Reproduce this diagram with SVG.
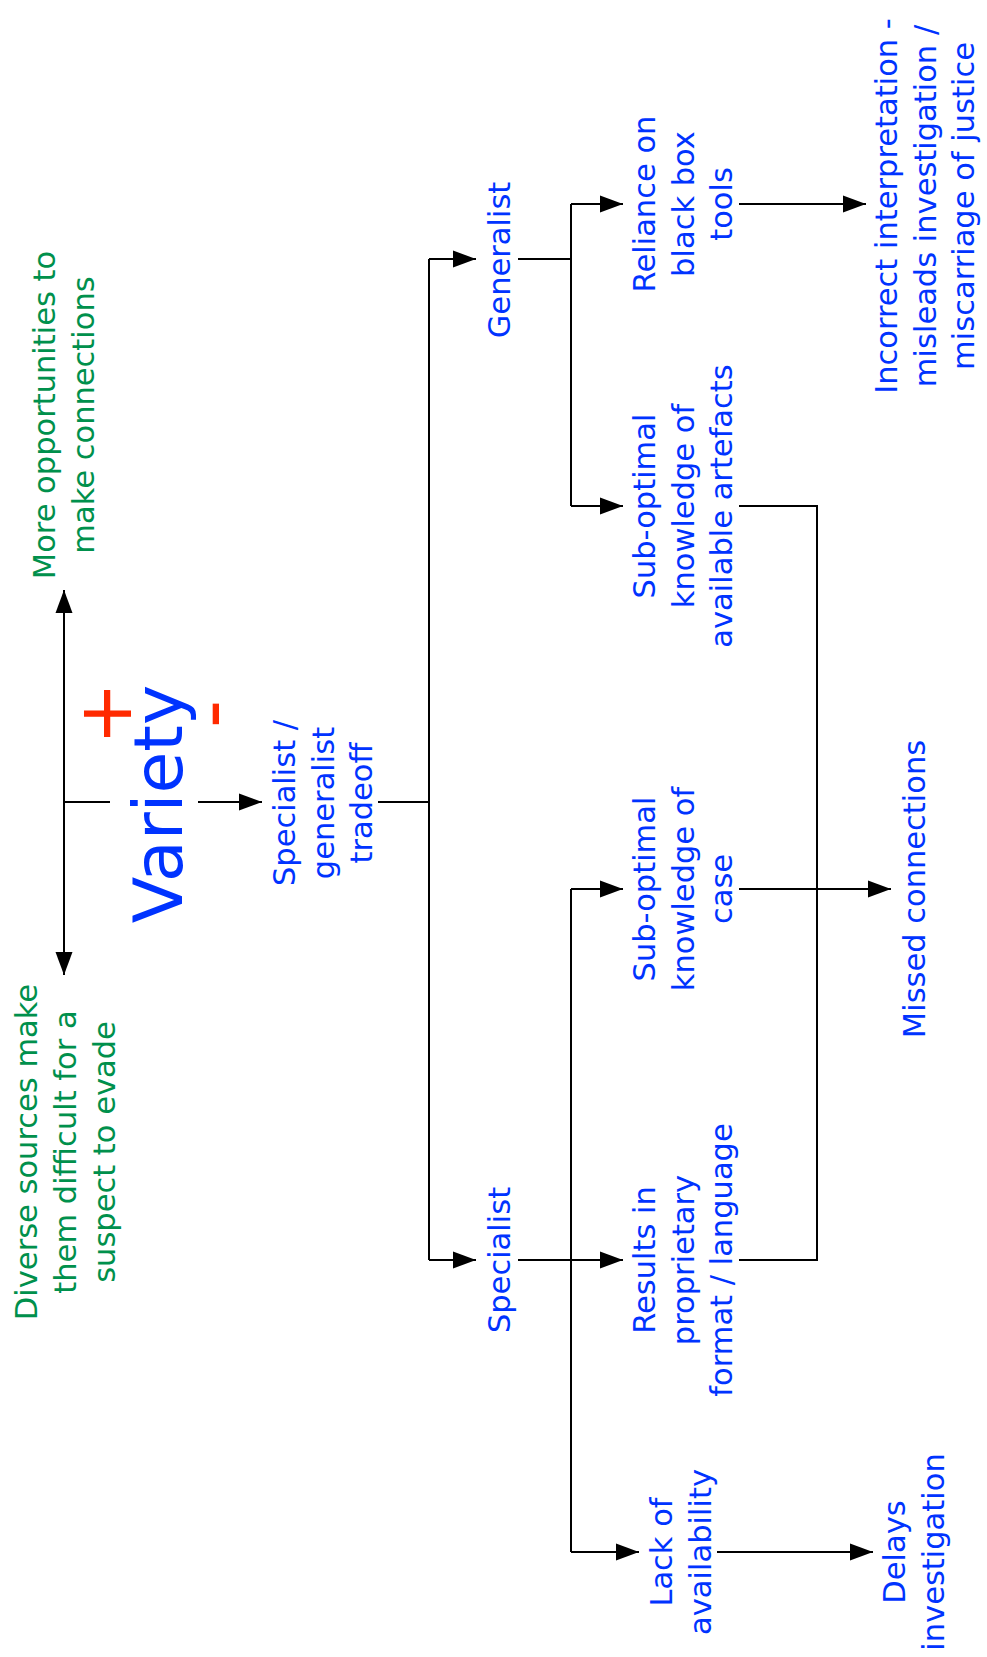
<svg xmlns="http://www.w3.org/2000/svg" width="987" height="1657" viewBox="0 0 987 1657">
<style>
.t{font-family:"DejaVu Sans",Verdana,sans-serif;font-size:30.5px;text-anchor:middle}
.b{fill:#0033FF}
.g{fill:#00904C}
.r{fill:#FF2A00}
.c{fill:none;stroke:#000;stroke-width:2}
</style>
<defs>
<marker id="a" markerWidth="24" markerHeight="18" refX="23" refY="9" orient="auto" markerUnits="userSpaceOnUse"><path d="M0,0.5 L23,9 L0,17.5z" fill="#000"/></marker>
</defs>
<rect width="987" height="1657" fill="#fff"/>
<g id="connectors">
<path class="c" d="M64,802 V590" marker-end="url(#a)"/>
<path class="c" d="M64,802 V975" marker-end="url(#a)"/>
<path class="c" d="M64,802 H110"/>
<path class="c" d="M198,802 H262" marker-end="url(#a)"/>
<path class="c" d="M378,802 H429"/>
<path class="c" d="M429,259 V1260"/>
<path class="c" d="M429,259 H476" marker-end="url(#a)"/>
<path class="c" d="M429,1260 H476" marker-end="url(#a)"/>
<path class="c" d="M518,259 H571"/>
<path class="c" d="M571,204 V506"/>
<path class="c" d="M571,204 H623" marker-end="url(#a)"/>
<path class="c" d="M571,506 H623" marker-end="url(#a)"/>
<path class="c" d="M739,204 H866" marker-end="url(#a)"/>
<path class="c" d="M739,506 H817 V1260 H739"/>
<path class="c" d="M739,889 H891" marker-end="url(#a)"/>
<path class="c" d="M518,1260 H623" marker-end="url(#a)"/>
<path class="c" d="M571,889 V1552"/>
<path class="c" d="M571,889 H623" marker-end="url(#a)"/>
<path class="c" d="M571,1552 H639" marker-end="url(#a)"/>
<path class="c" d="M717,1552 H873" marker-end="url(#a)"/>
</g>
<g id="more"><text class="t g" transform="translate(55,415) rotate(-90)"><tspan x="0" y="0">More opportunities to</tspan><tspan x="0" y="39">make connections</tspan></text></g>
<g id="diverse"><text class="t g" transform="translate(37,1152) rotate(-90)"><tspan x="0" y="0">Diverse sources make</tspan><tspan x="0" y="39">them difficult for a</tspan><tspan x="0" y="78">suspect to evade</tspan></text></g>
<g id="variety"><text class="t b" style="font-size:68px" transform="translate(182,804) rotate(-90)">Variety</text></g>
<g id="plus"><text class="t r" style="font-size:75px" transform="translate(130.5,713.5) rotate(-90)">+</text></g>
<g id="minus"><text class="t r" style="font-size:78px" transform="translate(237,714) rotate(-90)">-</text></g>
<g id="tradeoff"><text class="t b" transform="translate(295,803) rotate(-90)"><tspan x="0" y="0">Specialist /</tspan><tspan x="0" y="38.5">generalist</tspan><tspan x="0" y="77">tradeoff</tspan></text></g>
<g id="generalist"><text class="t b" transform="translate(510,260) rotate(-90)">Generalist</text></g>
<g id="specialist"><text class="t b" transform="translate(510,1260) rotate(-90)">Specialist</text></g>
<g id="reliance"><text class="t b" transform="translate(655,204) rotate(-90)"><tspan x="0" y="0">Reliance on</tspan><tspan x="0" y="38.5">black box</tspan><tspan x="0" y="77">tools</tspan></text></g>
<g id="subart"><text class="t b" transform="translate(655,506) rotate(-90)"><tspan x="0" y="0">Sub-optimal</tspan><tspan x="0" y="38.5">knowledge of</tspan><tspan x="0" y="77">available artefacts</tspan></text></g>
<g id="subcase"><text class="t b" transform="translate(655,889) rotate(-90)"><tspan x="0" y="0">Sub-optimal</tspan><tspan x="0" y="38.5">knowledge of</tspan><tspan x="0" y="77">case</tspan></text></g>
<g id="results"><text class="t b" transform="translate(655,1260) rotate(-90)"><tspan x="0" y="0">Results in</tspan><tspan x="0" y="38.5">proprietary</tspan><tspan x="0" y="77">format / language</tspan></text></g>
<g id="lack"><text class="t b" transform="translate(672,1552) rotate(-90)"><tspan x="0" y="0">Lack of</tspan><tspan x="0" y="38.5">availability</tspan></text></g>
<g id="incorrect"><text class="t b" transform="translate(897,206) rotate(-90)"><tspan x="0" y="0">Incorrect interpretation -</tspan><tspan x="0" y="38.5">misleads investigation /</tspan><tspan x="0" y="77">miscarriage of justice</tspan></text></g>
<g id="missed"><text class="t b" transform="translate(925,889) rotate(-90)">Missed connections</text></g>
<g id="delays"><text class="t b" transform="translate(905,1552) rotate(-90)"><tspan x="0" y="0">Delays</tspan><tspan x="0" y="38.5">investigation</tspan></text></g>
</svg>
